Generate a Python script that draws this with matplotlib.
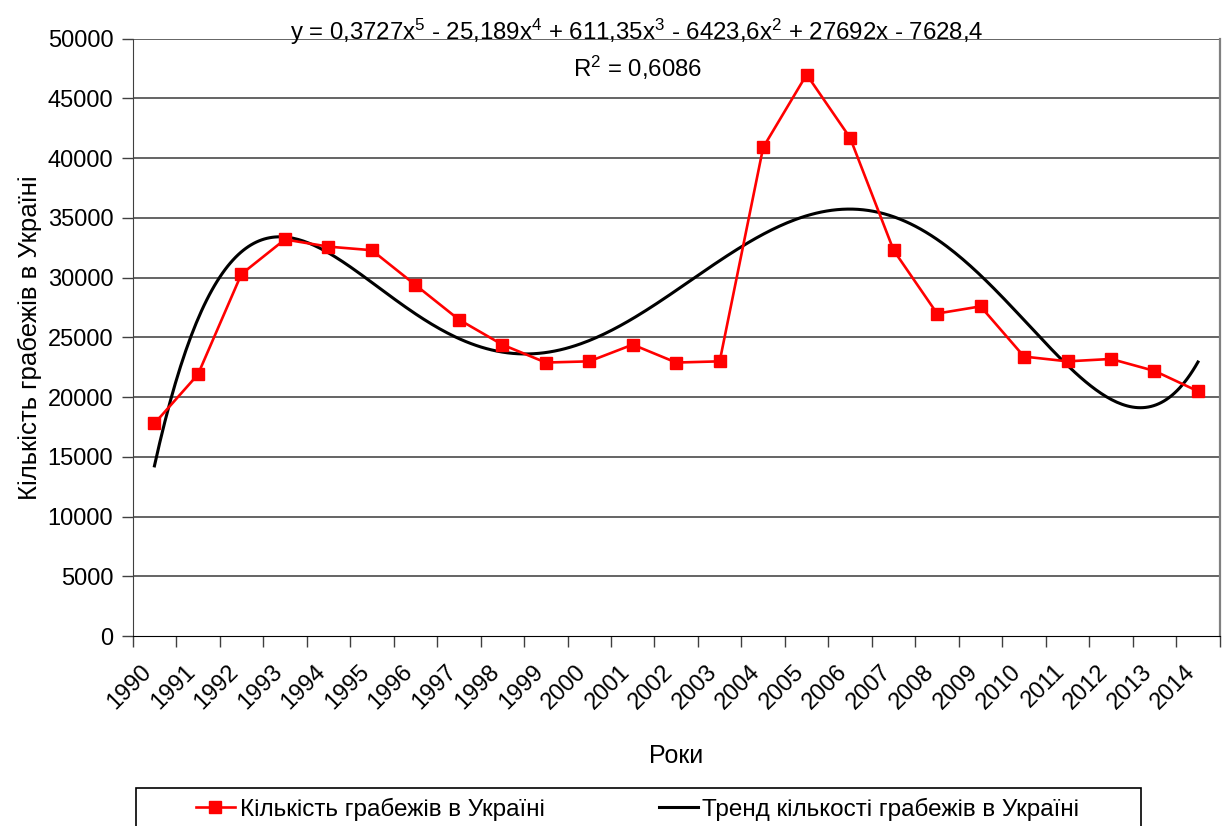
import numpy as np
import matplotlib.pyplot as plt
from matplotlib.patches import Rectangle
from matplotlib.transforms import ScaledTranslation

plt.rcParams['font.family'] = ['Liberation Sans', 'DejaVu Sans']
plt.rcParams['mathtext.fontset'] = 'custom'
plt.rcParams['mathtext.rm'] = 'Liberation Sans'
plt.rcParams['mathtext.it'] = 'Liberation Sans'

years = ['1990', '1991', '1992', '1993', '1994', '1995', '1996', '1997', '1998',
         '1999', '2000', '2001', '2002', '2003', '2004', '2005', '2006', '2007',
         '2008', '2009', '2010', '2011', '2012', '2013', '2014']
robberies = [17800, 21900, 30300, 33200, 32600, 32300, 29400, 26500, 24400,
             22900, 23000, 24400, 22900, 23000, 40900, 47000, 41700, 32300,
             27000, 27600, 23400, 23000, 23200, 22200, 20500]
yticks = [0, 5000, 10000, 15000, 20000, 25000, 30000, 35000, 40000, 45000, 50000]

fig = plt.figure(figsize=(12.27, 8.26), dpi=100)
ax = fig.add_axes([132.7 / 1227, 1 - 636.2 / 826, 1087 / 1227, 597.5 / 826])

idx = np.arange(len(years))
# polynomial trend (order 5), x = 1..25 as in Excel
coef = np.polyfit(idx + 1, robberies, 5)
xs = np.linspace(0, len(years) - 1, 400)
trend = np.polyval(coef, xs + 1)

ax.plot(xs, trend, color='black', lw=2.2, zorder=3,
        label='Тренд кількості грабежів в Україні')
ax.plot(idx, robberies, color='#ff0000', lw=1.9, marker='s', markersize=9,
        zorder=4, label='Кількість грабежів в Україні')

ax.set_xlim(-0.5, len(years) - 0.5)
ax.set_ylim(0, 50000)
ax.set_yticks(yticks)
ax.set_yticklabels([str(v) for v in yticks])
for v in yticks[1:]:
    ax.axhline(v, color='#3a3a3a', lw=1.1, zorder=1)

ax.set_xticks(np.arange(len(years) + 1) - 0.5)
ax.set_xticklabels([])
ax.set_xticks(idx, minor=True)
ax.set_xticklabels(years, minor=True, rotation=45, ha='right', va='center',
                   rotation_mode='anchor')
ax.tick_params(axis='x', which='minor', length=0, pad=23, labelsize=17)
ax.tick_params(axis='x', which='major', length=8, width=1, color='#404040')
ax.tick_params(axis='y', length=8, width=1, color='#404040', pad=6, labelsize=17)
shift = ScaledTranslation(-6 / 100, 0, fig.dpi_scale_trans)
for lab in ax.get_xticklabels(minor=True):
    lab.set_transform(lab.get_transform() + shift)

ax.spines['top'].set_visible(False)
ax.spines['left'].set_color('#404040')
ax.spines['bottom'].set_color('black')
ax.spines['right'].set_color('#808080')
ax.spines['right'].set_linewidth(1.6)

ax.set_xlabel('Роки', fontsize=18, labelpad=22)
ax.set_ylabel('Кількість грабежів в Україні', fontsize=18.5, labelpad=4)

fig.text(637 / 1227, 1 - 32 / 826,
         'y = 0,3727x$^5$ - 25,189x$^4$ + 611,35x$^3$ - 6423,6x$^2$ + 27692x - 7628,4',
         ha='center', va='center', fontsize=17.3)
fig.text(638 / 1227, 1 - 68 / 826, 'R$^2$ = 0,6086', ha='center', va='center',
         fontsize=17.3)

h, l = ax.get_legend_handles_labels()
leg = fig.legend(h[::-1], l[::-1], loc='center left', ncol=2, frameon=False,
                 bbox_to_anchor=(174 / 1227, 1 - 809 / 826), fontsize=17.5,
                 handlelength=1.6, handletextpad=0.2, columnspacing=4.7)
fig.patches.append(Rectangle((136 / 1227, -0.05), (1141 - 136) / 1227,
                             0.05 + (826 - 788) / 826, transform=fig.transFigure,
                             fill=False, edgecolor='black', lw=1.2))

fig.savefig('out.png', dpi=100)
